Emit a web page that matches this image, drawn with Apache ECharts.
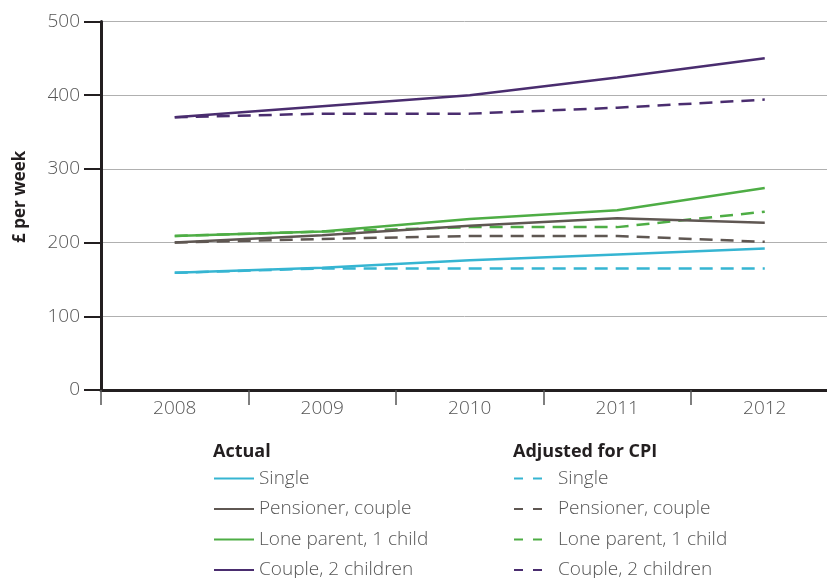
<!DOCTYPE html>
<html><head><meta charset="utf-8">
<script src="https://cdn.jsdelivr.net/npm/echarts@6/dist/echarts.min.js"></script>
<style>html,body{margin:0;padding:0;background:#fff}#c{width:827px;height:578px}</style>
</head><body><div id="c"></div>
<script>
var categories = ['2008','2009','2010','2011','2012'];
var yTicks = [0,100,200,300,400,500];
var groupNames = ['Single','Pensioner, couple','Lone parent, 1 child','Couple, 2 children'];
var singleActual    = [159,166,176,184,192];
var pensionerActual = [200,210,223,233,227];
var loneActual      = [209,215,232,244,274];
var coupleActual    = [370,385,400,424,450];
var singleCPI       = [159,165,165,165,165];
var pensionerCPI    = [200,205,209,209,201];
var loneCPI         = [209,215,221,221,242];
var coupleCPI       = [370,375,375,383,394];

var colors = ['#36b5d2','#5f5752','#4ead45','#4a2d6f'];
var actual = [singleActual,pensionerActual,loneActual,coupleActual];
var cpi = [singleCPI,pensionerCPI,loneCPI,coupleCPI];
var SUF = ' (CPI)';
var series = [];
groupNames.forEach(function(n,i){
  series.push({name:n,type:'line',data:actual[i],symbol:'none',color:colors[i],
    lineStyle:{width:2.5,color:colors[i]},z:3});
});
groupNames.forEach(function(n,i){
  series.push({name:n+SUF,type:'line',data:cpi[i],symbol:'none',color:colors[i],
    lineStyle:{width:2.5,color:colors[i],type:[13,8]},z:2});
});
var font = 'Open Sans';
var txt = {fontFamily:font,fontWeight:300,fontSize:19,color:'#555'};
var chart = echarts.init(document.getElementById('c'));
chart.setOption({
  animation:false,
  grid:{left:101,width:737.5,top:21.5,height:368.5,containLabel:false,outerBoundsMode:'none'},
  xAxis:{type:'category',data:categories,boundaryGap:true,
    axisLine:{show:true,lineStyle:{color:'#231f20',width:3}},
    axisTick:{show:true,length:15,lineStyle:{color:'#555',width:1.5}},
    axisLabel:Object.assign({margin:9},txt)},
  yAxis:{type:'value',min:yTicks[0],max:yTicks[yTicks.length-1],interval:100,
    name:'£ per week',nameLocation:'middle',nameGap:72,
    nameTextStyle:{fontFamily:font,fontWeight:'bold',fontSize:17,color:'#231f20',padding:[0,0,0,18]},
    axisLine:{show:true,lineStyle:{color:'#231f20',width:3}},
    axisTick:{show:true,length:17,lineStyle:{color:'#231f20',width:2}},
    axisLabel:Object.assign({margin:21},txt),
    splitLine:{show:true,lineStyle:{color:'#b0b0b0',width:1}}},
  title:[
    {text:'Actual',left:208,top:438,padding:5,textStyle:{fontFamily:font,fontWeight:'bold',fontSize:18,color:'#231f20'}},
    {text:'Adjusted for CPI',left:508,top:438,padding:5,textStyle:{fontFamily:font,fontWeight:'bold',fontSize:18,color:'#231f20'}}
  ],
  legend:[
    {orient:'vertical',left:208,top:464,height:200,itemWidth:40,itemHeight:16,itemGap:11.5,
     data:groupNames,itemStyle:{opacity:0},
     textStyle:Object.assign({padding:[0,0,0,0]},txt)},
    {orient:'vertical',left:508,top:464,height:200,itemWidth:28,itemHeight:16,itemGap:11.5,
     data:groupNames.map(function(n){return n+SUF;}),itemStyle:{opacity:0},
     formatter:function(n){return n.replace(SUF,'');},
     lineStyle:{type:[9,10]},
     textStyle:Object.assign({padding:[0,0,0,11]},txt)}
  ],
  series:series
});
</script></body></html>
